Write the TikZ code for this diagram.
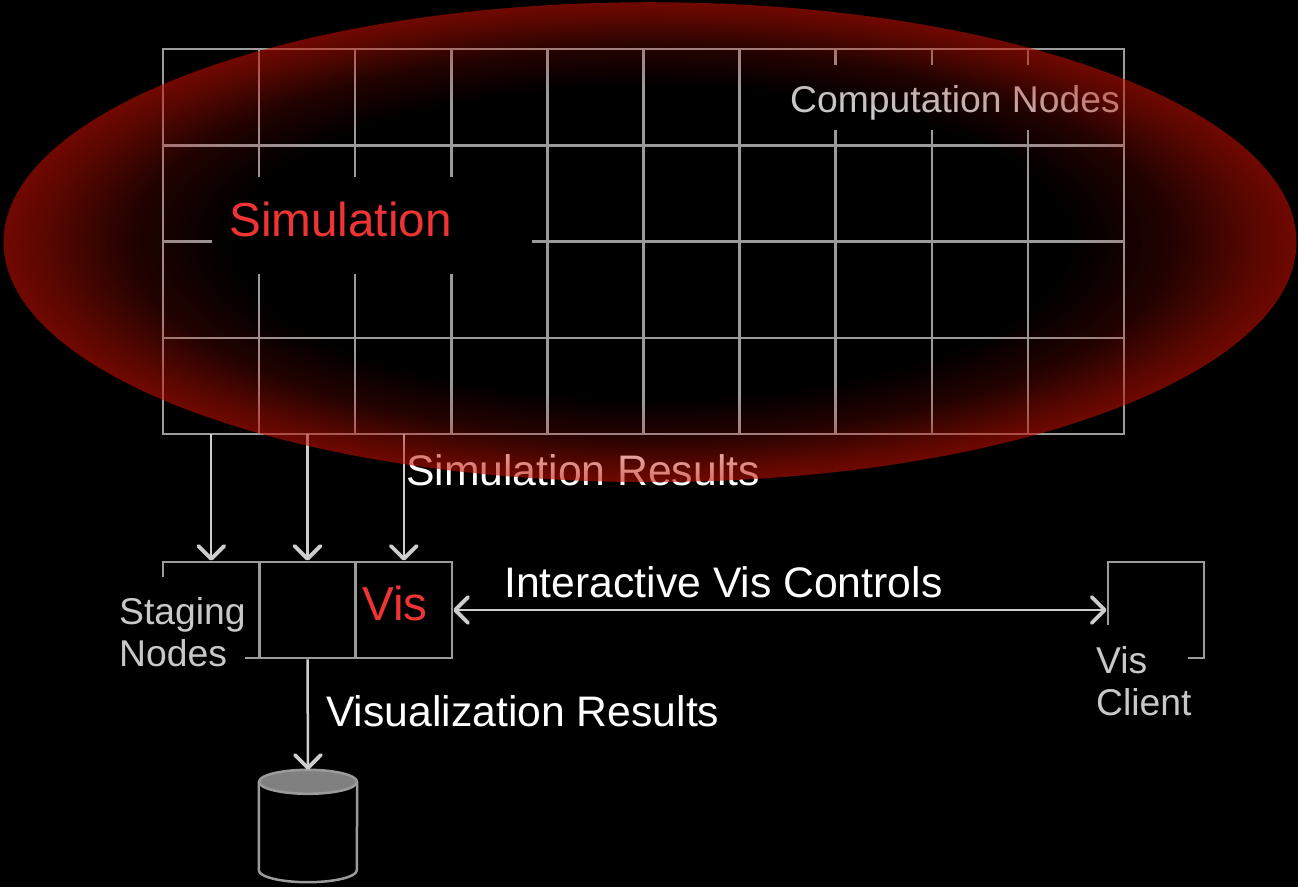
\documentclass[tikz,border=0pt]{standalone}
\usepackage{fontspec}
\setmainfont{Liberation Sans}
\usetikzlibrary{arrows.meta,fadings}

\definecolor{gridgray}{RGB}{155,155,155}
\definecolor{labelgray}{RGB}{200,200,200}
\definecolor{arrowgray}{RGB}{205,205,205}
\definecolor{simred}{RGB}{240,52,52}
\definecolor{rimred}{RGB}{190,15,0}
\definecolor{dbtop}{RGB}{128,128,128}

% rim glow: clear in the middle, growing towards the border of the ellipse
\pgfdeclareradialshading{rimshade}{\pgfpointorigin}{%
  color(0bp)=(black); color(16bp)=(black); color(20bp)=(black!82!white);
  color(23bp)=(black!55!white); color(25bp)=(black!40!white);
  color(50bp)=(black!40!white)}
\pgfdeclarefading{rim}{\pgfuseshading{rimshade}}

\tikzset{
  gridline/.style={draw=gridgray, line width=2.5pt, line cap=rect},
  cell/.style={draw=gridgray, line width=2.5pt, minimum width=96.3pt,
    minimum height=96pt, inner sep=0pt},
  mask/.style={fill=black},
  tip/.tip={Straight Barb[length=13pt, width=26pt, line width=3.8pt, round]},
  arr/.style={draw=arrowgray, line width=2.5pt, -tip},
  arrboth/.style={draw=arrowgray, line width=2.5pt, tip-tip},
  whitetxt/.style={inner sep=0pt, text=white, font=\fontsize{42.7}{50}\selectfont},
  graytxt/.style={inner sep=0pt, text=labelgray, align=left,
    font=\fontsize{37.3}{42}\selectfont},
  redtxt/.style={inner sep=0pt, text=simred, font=\fontsize{47.7}{56}\selectfont},
  dbbox/.style={minimum width=98pt, minimum height=112pt, inner sep=0pt},
  dbline/.style={draw=gridgray, line width=2.5pt}
}

\begin{document}
\begin{tikzpicture}[x=1pt, y=-1pt]
  \useasboundingbox (0,0) rectangle (1298,887);
  \fill[black] (0,0) rectangle (1298,887);

  % computation grid, 10 x 4 cells
  \foreach \i in {0,...,10}
    \draw[gridline] ({163+96.1*\i},49) -- ({163+96.1*\i},434);
  \foreach \j in {0,...,4}
    \draw[gridline] (163,{49+96.25*\j}) -- (1124,{49+96.25*\j});
  \coordinate (gb) at (0,434);

  % label areas cut out of the grid
  \fill[mask] (212,177) rectangle (532,274);
  \fill[mask] (770,65) rectangle (1121.5,130);

  \node[redtxt, anchor=base west] (sim) at (229,236) {Simulation};
  \node[graytxt, anchor=base west] (comp) at (790,112.7) {Computation Nodes};

  % staging nodes
  \node[cell] (st1) at (211.2,610) {};
  \node[cell] (st2) at (307.5,610) {};
  \node[cell] (st3) at (403.8,610) {};
  \fill[mask] (108,577) rectangle (245,690);
  \node[graytxt, anchor=north west] (stlabel) at (119,597) {Staging\\Nodes};
  \node[redtxt, anchor=base west] (vis) at (362,620) {Vis};

  % vis client
  \node[cell] (client) at (1156,610) {};
  \fill[mask] (1088,625) rectangle (1188,725);
  \node[graytxt, anchor=north west] (clabel) at (1096,646) {Vis\\Client};

  % storage: a cylinder inside the box of node db
  \node[dbbox] (db) at (308,826) {};
  \draw[dbline, fill=black] ([yshift=-12pt]db.north west)
    -- ([yshift=12pt]db.south west)
    arc[start angle=180, end angle=360, x radius=49pt, y radius=12pt]
    -- ([yshift=-12pt]db.north east);
  \draw[dbline, fill=dbtop] ([yshift=-12pt]db.north)
    ellipse [x radius=49pt, y radius=12pt];

  % connectors
  \draw[arr] (st1.north |- gb) -- (st1.north);
  \draw[arr] (st2.north |- gb) -- (st2.north);
  \draw[arr] (st3.north |- gb) -- (st3.north);
  \draw[arrboth] (st3.east) -- (client.west);
  \draw[arr] (st2.south) -- (db.north);

  \node[whitetxt, anchor=base west] (simres) at (406,485) {Simulation Results};
  \node[whitetxt, anchor=base west] (ctrl) at (504,597.7) {Interactive Vis Controls};
  \node[whitetxt, anchor=base west] (visres) at (326,726) {Visualization Results};

  % red glow over the simulation
  \fill[rimred, path fading=rim] (651,242) ellipse [x radius=647, y radius=240];
\end{tikzpicture}
\end{document}
